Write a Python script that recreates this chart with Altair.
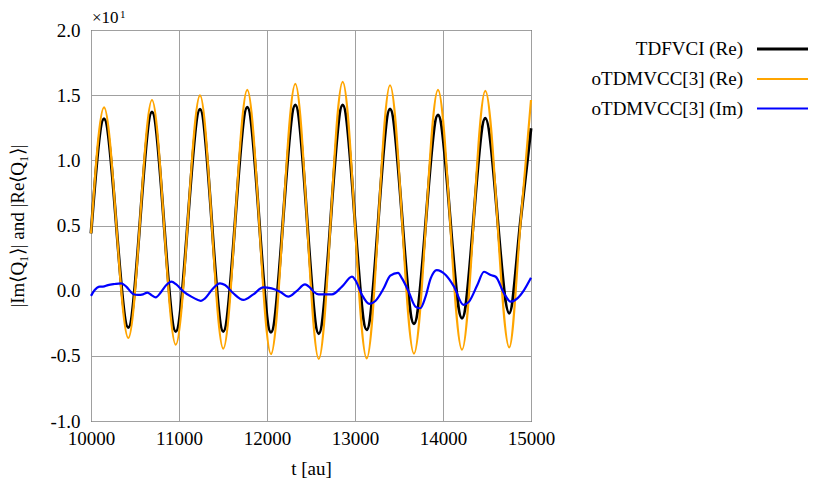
import altair as alt
import pandas as pd

# ---- data (values shown in units of 10^1) ----
T_RE = [10000, 10148, 10424, 10693, 10963, 11239, 11503, 11776, 12045, 12322,
        12588, 12860, 13133, 13398, 13670, 13943, 14216, 14481, 14753, 14885, 15000]
TDFVCI_RE = [0.44, 1.32, -0.283, 1.371, -0.313, 1.392, -0.313, 1.407, -0.32, 1.425,
             -0.33, 1.425, -0.300, 1.394, -0.254, 1.348, -0.211, 1.323, -0.173, 0.56, 1.246]
OTDMVCC_RE = [0.44, 1.407, -0.363, 1.463, -0.415, 1.499, -0.445, 1.540, -0.486, 1.586,
              -0.524, 1.602, -0.519, 1.576, -0.483, 1.540, -0.453, 1.533, -0.435, 0.55, 1.463]

T_IM = [10000, 10042, 10099, 10136, 10193, 10269, 10344, 10401, 10477, 10534,
        10591, 10640, 10685, 10735, 10799, 10856, 10913, 10969, 11045, 11140,
        11216, 11250, 11296, 11372, 11466, 11523, 11617, 11731, 11845, 11958,
        12053, 12148, 12242, 12337, 12432, 12489, 12530, 12587, 12739, 12852,
        12966, 13004, 13080, 13163, 13231, 13326, 13401, 13489, 13534, 13610,
        13686, 13742, 13800, 13860, 13928, 14031, 14125, 14231, 14296, 14390,
        14466, 14542, 14599, 14693, 14769, 14845, 14921, 15000]
OTDMVCC_IM = [-0.04, 0.005, 0.031, 0.031, 0.043, 0.051, 0.056, 0.031, -0.025, -0.033,
              -0.028, -0.015, -0.033, -0.051, -0.008, 0.043, 0.069, 0.048, -0.003, -0.046,
              -0.071, -0.078, -0.059, 0.005, 0.056, 0.043, -0.020, -0.071, -0.028, 0.025,
              0.018, -0.008, -0.046, -0.003, 0.048, 0.023, -0.008, -0.028, -0.028, 0.031,
              0.107, 0.081, -0.033, -0.102, -0.079, 0.018, 0.115, 0.137, 0.094, -0.008,
              -0.122, -0.135, -0.05, 0.094, 0.158, 0.120, 0.031, -0.109, -0.084, 0.043,
              0.145, 0.120, 0.107, -0.020, -0.084, -0.059, 0.005, 0.099]

SERIES_LABELS = ["TDFVCI (Re)", "oTDMVCC[3] (Re)", "oTDMVCC[3] (Im)"]
SERIES_COLORS = ["#000000", "#FFA500", "#0000FF"]
SERIES_WIDTHS = [3, 2.2, 2.2]

X_TICKS = [10000, 11000, 12000, 13000, 14000, 15000]
Y_TICKS = [-1.0, -0.5, 0.0, 0.5, 1.0, 1.5, 2.0]

FONT = "Liberation Serif"
FS = 19
W, H = 440, 391

x_enc = alt.X("t:Q", scale=alt.Scale(domain=[10000, 15000], nice=False),
              axis=alt.Axis(values=X_TICKS, format="d", title="t [au]", labelFlush=False,
                            labelOverlap=False, labelPadding=8,
                            titleX=W / 2, titleY=47, titleBaseline="middle"))
y_enc = alt.Y("v:Q", scale=alt.Scale(domain=[-1, 2], nice=False),
              axis=alt.Axis(values=Y_TICKS, labelFlush=False, labelOverlap=False,
                            labelPadding=11,
                            labelExpr="datum.value < 0 ? '-' + format(-datum.value, '.1f') : format(datum.value, '.1f')",
                            title="|Im⟨Q₁⟩| and |Re⟨Q₁⟩|",
                            titleX=-74, titleY=H / 2, titleBaseline="middle"))

def line_layer(ts, vs, i):
    df = pd.DataFrame({"t": ts, "v": vs})
    return alt.Chart(df).mark_line(
        color=SERIES_COLORS[i], strokeWidth=SERIES_WIDTHS[i], interpolate="monotone"
    ).encode(x=x_enc, y=y_enc)

layers = [
    line_layer(T_RE, TDFVCI_RE, 0),
    line_layer(T_RE, OTDMVCC_RE, 1),
    line_layer(T_IM, OTDMVCC_IM, 2),
]

dummy = pd.DataFrame({"a": [0]})
leg_y = [19, 49, 78.5]
for i, lab in enumerate(SERIES_LABELS):
    layers.append(alt.Chart(dummy).mark_text(
        font=FONT, fontSize=FS, align="right", baseline="middle", color="#000000"
    ).encode(x=alt.value(652), y=alt.value(leg_y[i]), text=alt.value(lab)))
    layers.append(alt.Chart(dummy).mark_rule(
        color=SERIES_COLORS[i], strokeWidth=SERIES_WIDTHS[i]
    ).encode(x=alt.value(666), x2=alt.value(717), y=alt.value(leg_y[i])))

# x10^1 multiplier label
layers.append(alt.Chart(dummy).mark_text(
    font=FONT, fontSize=17, align="left", baseline="alphabetic", color="#000000"
).encode(x=alt.value(1), y=alt.value(-7), text=alt.value("×10")))
layers.append(alt.Chart(dummy).mark_text(
    font=FONT, fontSize=11, align="left", baseline="alphabetic", color="#000000"
).encode(x=alt.value(29), y=alt.value(-12), text=alt.value("1")))

chart = alt.layer(*layers).properties(
    width=W, height=H,
    autosize=alt.AutoSizeParams(type="none"),
    padding={"left": 83, "top": 22, "right": 280, "bottom": 60},
).configure_view(
    stroke="#000000", strokeWidth=1
).configure_axis(
    labelFont=FONT, labelFontSize=FS, labelColor="#000000",
    titleFont=FONT, titleFontSize=FS, titleColor="#000000", titleFontWeight="normal",
    grid=True, gridColor="#a0a0a0", gridWidth=1, gridOpacity=1,
    ticks=False, domain=False,
)

chart.save("out.html", embed_options={"renderer": "svg", "actions": False})
